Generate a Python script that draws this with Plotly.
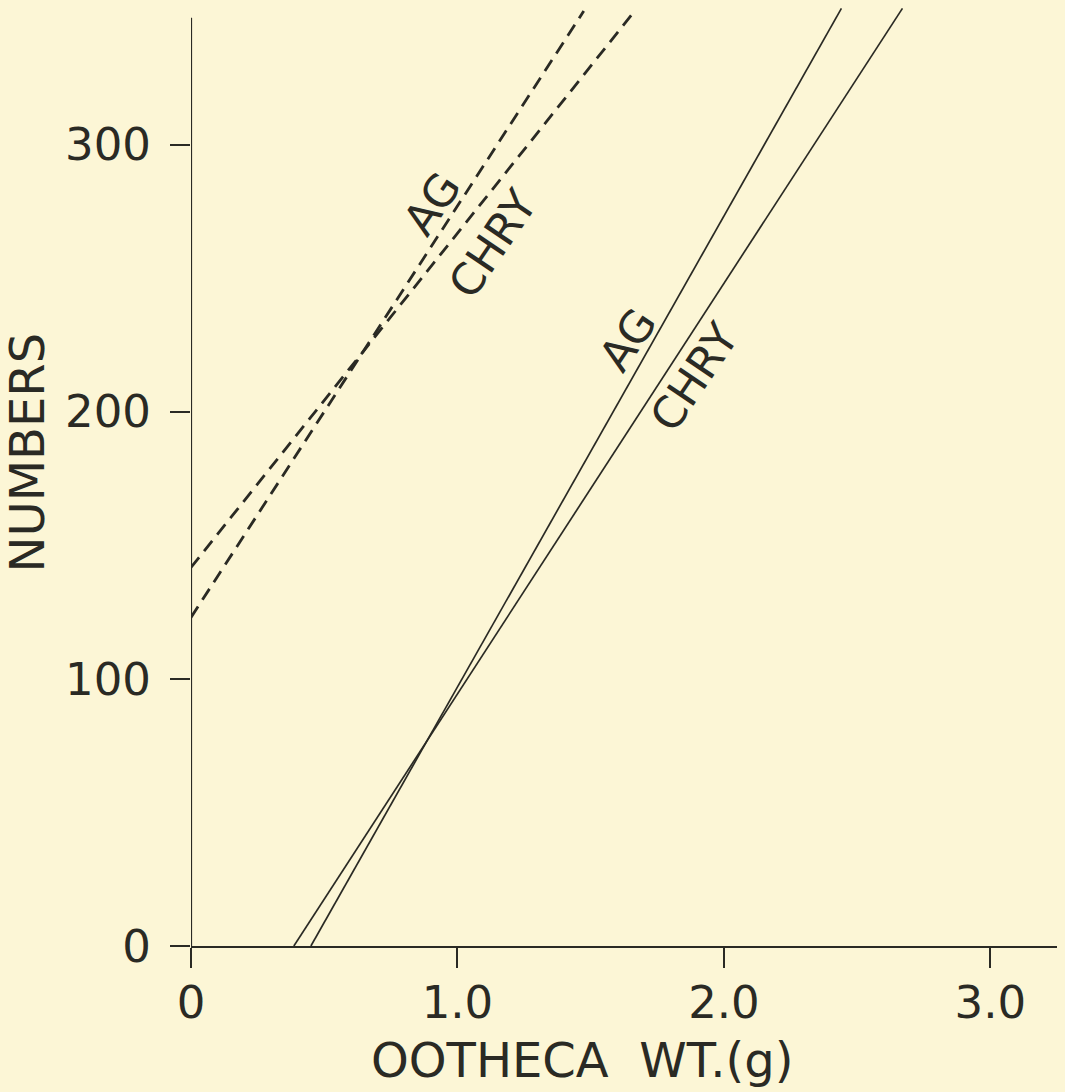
import plotly.graph_objects as go

# Data (endpoints of the regression lines)
dashed_ag_x = [0.0, 1.474]
dashed_ag_y = [123.0, 350.0]
dashed_chry_x = [0.0, 1.665]
dashed_chry_y = [141.7, 350.0]
solid_ag_x = [0.450, 2.441]
solid_ag_y = [0.0, 351.0]
solid_chry_x = [0.386, 2.670]
solid_chry_y = [0.0, 351.0]

x_ticks = [0, 1, 2, 3]
x_ticklabels = ["0", "1.0", "2.0", "3.0"]
y_ticks = [0, 100, 200, 300]
y_ticklabels = ["0", "100", "200", "300"]

label_text = ["AG", "CHRY", "AG", "CHRY"]
label_x = [0.904, 1.132, 1.639, 1.890]
label_y = [278.0, 263.0, 227.0, 213.0]

BG = "#FCF6D6"
INK = "#2a2a24"
FONT = "DejaVu Sans"

fig = go.Figure()
for xs, ys in [(dashed_ag_x, dashed_ag_y), (dashed_chry_x, dashed_chry_y)]:
    fig.add_trace(go.Scatter(x=xs, y=ys, mode="lines",
                             line=dict(color=INK, width=2.8, dash="13px,8px"),
                             showlegend=False, hoverinfo="skip", cliponaxis=False))
for xs, ys in [(solid_ag_x, solid_ag_y), (solid_chry_x, solid_chry_y)]:
    fig.add_trace(go.Scatter(x=xs, y=ys, mode="lines",
                             line=dict(color=INK, width=1.7),
                             showlegend=False, hoverinfo="skip", cliponaxis=False))

for t, x, y in zip(label_text, label_x, label_y):
    fig.add_annotation(x=x, y=y, xref="x", yref="y", text=t, showarrow=False,
                       textangle=-56, xanchor="center", yanchor="middle",
                       font=dict(family=FONT, size=44, color=INK))

# y axis line (stops below the top of the plotted lines)
fig.add_shape(type="line", xref="x", yref="y", x0=0, x1=0, y0=0, y1=347.5,
              line=dict(color=INK, width=2.2))

fig.add_annotation(xref="paper", yref="paper", x=-0.189, y=0.526, text="NUMBERS",
                   showarrow=False, textangle=-90, xanchor="center", yanchor="middle",
                   font=dict(family=FONT, size=48, color=INK))
fig.add_annotation(xref="paper", yref="paper", x=0.4515, y=-0.121,
                   text="OOTHECA\u00a0 WT.(g)", showarrow=False,
                   xanchor="center", yanchor="middle",
                   font=dict(family=FONT, size=48, color=INK))

fig.update_layout(
    width=1065, height=1092,
    margin=dict(l=191, r=8, t=7, b=146, autoexpand=False),
    paper_bgcolor=BG, plot_bgcolor=BG,
    xaxis=dict(range=[0, 3.25], tickvals=x_ticks, ticktext=x_ticklabels,
               showline=True, linecolor=INK, linewidth=2, showgrid=False,
               zeroline=False, ticks="outside", ticklen=20, tickwidth=2,
               tickcolor=INK, ticklabelstandoff=-4,
               tickfont=dict(family=FONT, size=45, color=INK)),
    yaxis=dict(range=[0, 351.5], tickvals=y_ticks, ticktext=y_ticklabels,
               showline=False, showgrid=False, zeroline=False,
               ticks="outside", ticklen=20, tickwidth=2, tickcolor=INK,
               ticklabelstandoff=10,
               tickfont=dict(family=FONT, size=45, color=INK)),
)

fig.write_html("out.html", config={"displayModeBar": False},
               post_script="document.body.style.margin='0';")
